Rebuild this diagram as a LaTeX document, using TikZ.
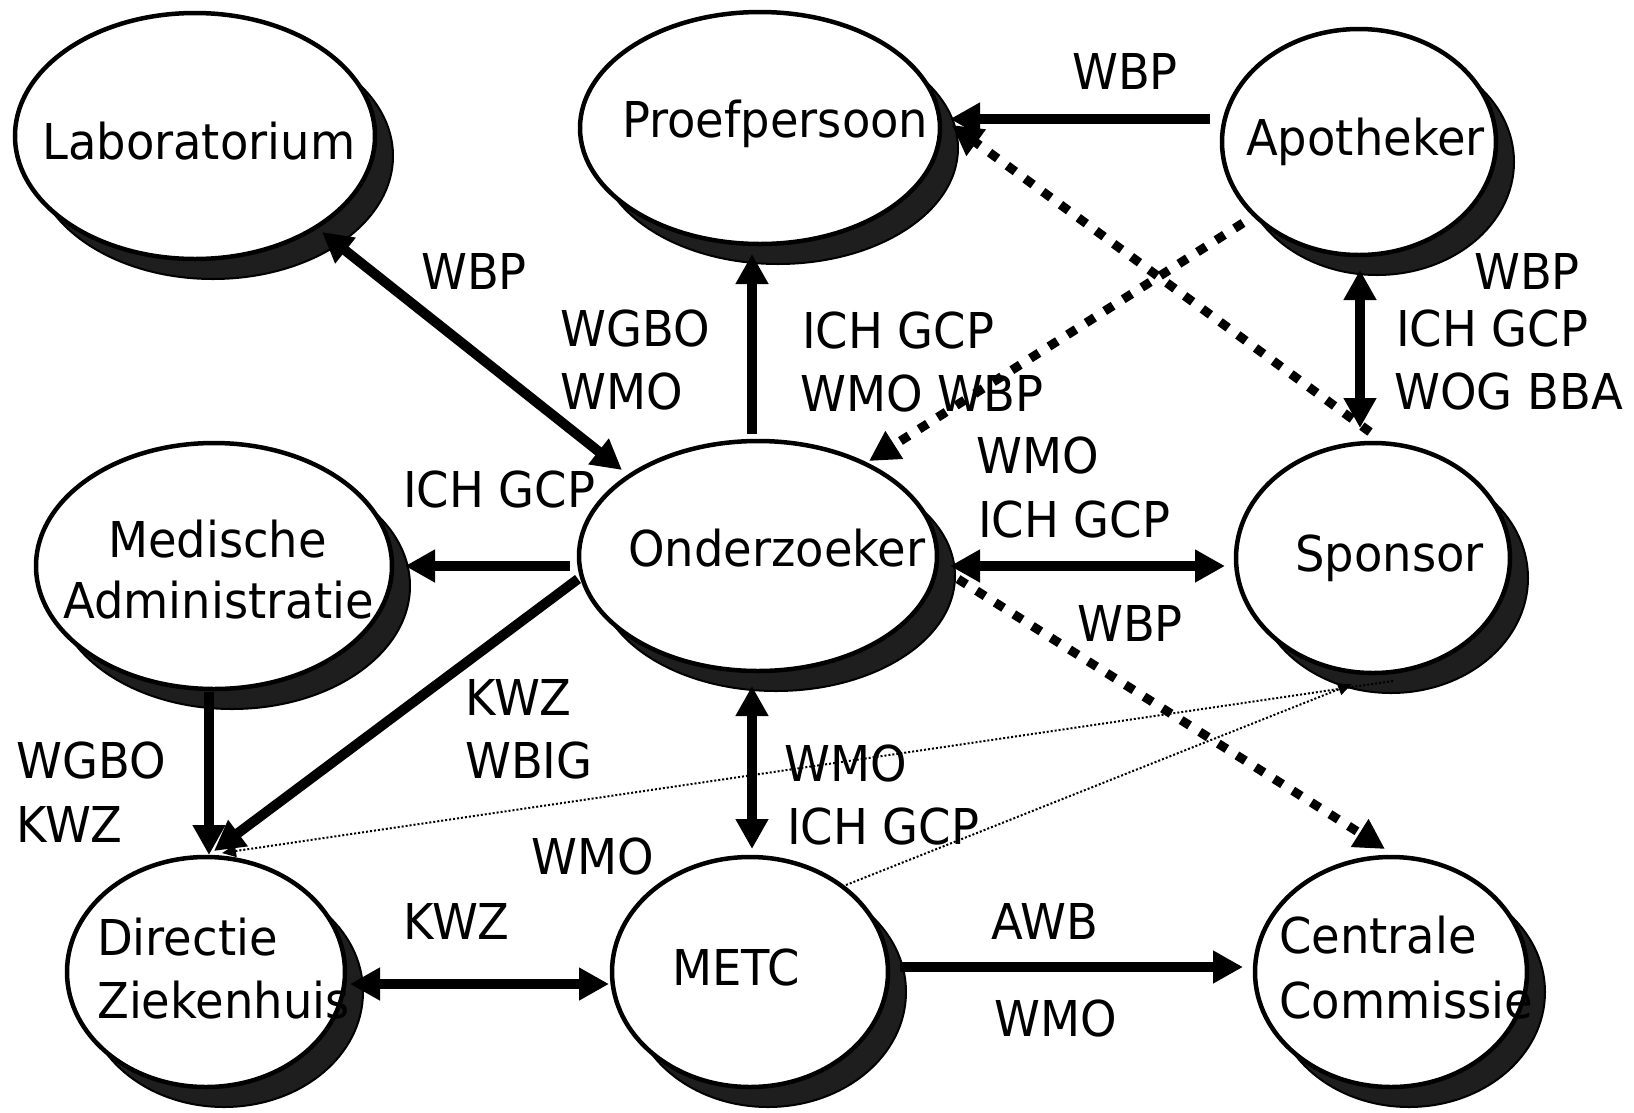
\documentclass[tikz,border=0pt]{standalone}
\usepackage{fontspec}
\setmainfont{DejaVu Sans}[FakeStretch=0.94]
\usetikzlibrary{shapes.geometric,arrows.meta,calc,shadows}
\definecolor{shadowgray}{RGB}{30,30,30}
\begin{document}
\begin{tikzpicture}[x=1pt,y=-1pt,
  ell/.style={ellipse, draw=black, line width=4.5pt, fill=white, inner sep=0pt, outer sep=0pt,
    drop shadow={shadow xshift=18pt, shadow yshift=-20pt, fill=shadowgray, draw=black, line width=2pt, opacity=1}},
  txt/.style={anchor=base west, inner sep=0pt, font=\fontsize{49.4}{60}\selectfont},
  conn/.style={line width=10pt, -{Triangle[length=30pt,width=31pt]}},
  dconn/.style={line width=10pt, {Triangle[length=30pt,width=31pt]}-{Triangle[length=30pt,width=31pt]}},
  dashconn/.style={line width=9pt, dash pattern=on 10pt off 12pt, -{Triangle[length=30pt,width=31pt]}},
  dotconn/.style={line width=2pt, dash pattern=on 2pt off 2pt, -{Triangle[length=14pt,width=12pt]}}
]
\useasboundingbox (0,0) rectangle (1634,1112);
\fill[white] (0,0) rectangle (1634,1112);

% ellipses
\node[ell, minimum width=360pt, minimum height=246pt] (lab) at (195,136) {};
\node[ell, minimum width=360pt, minimum height=232pt] (proef) at (760,128) {};
\node[ell, minimum width=274pt, minimum height=226pt] (apo) at (1359,142) {};
\node[ell, minimum width=356pt, minimum height=246pt] (med) at (214,566) {};
\node[ell, minimum width=358pt, minimum height=230pt] (ond) at (758,556) {};
\node[ell, minimum width=274pt, minimum height=230pt] (spon) at (1373,558) {};
\node[ell, minimum width=278pt, minimum height=230pt] (dir) at (206,972) {};
\node[ell, minimum width=276pt, minimum height=230pt] (metc) at (750,972) {};
\node[ell, minimum width=272pt, minimum height=230pt] (cent) at (1391,972) {};

% connectors
\draw[dconn] ($(lab)+(127,96)$) -- ($(ond)+(-136,-86)$);
\draw[conn] ($(ond)+(-6,-122)$) -- ($(proef)+(-8,126)$);
\draw[conn] ($(apo)+(-149,-23)$) -- ($(proef)+(190,-9)$);
\draw[dashconn] ($(apo)+(-116,81)$) -- ($(ond)+(111,-95)$);
\draw[dashconn] ($(spon)+(-3,-126)$) -- ($(proef)+(192,-3)$);
\draw[dconn] ($(apo)+(1,128)$) -- ($(spon)+(-13,-130)$);
\draw[dconn] ($(ond)+(192,10)$) -- ($(spon)+(-148,8)$);
\draw[dashconn] ($(ond)+(200,23)$) -- ($(cent)+(-6,-123)$);
\draw[conn] ($(ond)+(-188,10)$) -- ($(med)+(191,0)$);
\draw[conn] ($(ond)+(-180,23)$) -- ($(dir)+(8,-121)$);
\draw[conn] ($(med)+(-5,126)$) -- ($(dir)+(3,-117)$);
\draw[dconn] ($(dir)+(144,12)$) -- ($(metc)+(-141,12)$);
\draw[dconn] ($(ond)+(-6,130)$) -- ($(metc)+(2,-123)$);
\draw[conn] ($(metc)+(150,-5)$) -- ($(cent)+(-148,-5)$);
\draw[dotconn] ($(spon)+(20,123)$) -- ($(dir)+(16,-119)$);
\draw[dotconn] ($(metc)+(96,-87)$) -- ($(spon)+(-21,126)$);

% node texts
\node[txt] (tlab) at (42,159) {Laboratorium};
\node[txt] (tproef) at (622,137) {Proefpersoon};
\node[txt] (tapo) at (1246,155) {Apotheker};
\node[txt] (tond) at (628,566) {Onderzoeker};
\node[txt] (tmed1) at (108,557) {Medische};
\node[txt] (tmed2) at (63,618) {Administratie};
\node[txt] (tspon) at (1295,571) {Sponsor};
\node[txt] (tdir1) at (97,955) {Directie};
\node[txt] (tdir2) at (97,1018) {Ziekenhuis};
\node[txt] (tmetc) at (672,985) {METC};
\node[txt] (tcent1) at (1279,953) {Centrale};
\node[txt] (tcent2) at (1279,1018) {Commissie};

% connector labels
\node[txt] (l1) at (1072,89) {WBP};
\node[txt] (l2) at (421,289) {WBP};
\node[txt] (l3a) at (560,346) {WGBO};
\node[txt] (l3b) at (560,409) {WMO};
\node[txt] (l4a) at (802,348) {ICH GCP};
\node[txt] (l4b) at (800,411) {WMO WBP};
\node[txt] (l5) at (403,507) {ICH GCP};
\node[txt] (l6a) at (1474,289) {WBP};
\node[txt] (l6b) at (1396,346) {ICH GCP};
\node[txt] (l6c) at (1394,409) {WOG BBA};
\node[txt] (l7a) at (976,473) {WMO};
\node[txt] (l7b) at (978,537) {ICH GCP};
\node[txt] (l8) at (1077,641) {WBP};
\node[txt] (l9a) at (465,715) {KWZ};
\node[txt] (l9b) at (465,778) {WBIG};
\node[txt] (l10a) at (16,778) {WGBO};
\node[txt] (l10b) at (16,842) {KWZ};
\node[txt] (l11a) at (784,781) {WMO};
\node[txt] (l11b) at (787,844) {ICH GCP};
\node[txt] (l12) at (531,874) {WMO};
\node[txt] (l13) at (403,939) {KWZ};
\node[txt] (l14a) at (991,939) {AWB};
\node[txt] (l14b) at (994,1036) {WMO};
\end{tikzpicture}
\end{document}
